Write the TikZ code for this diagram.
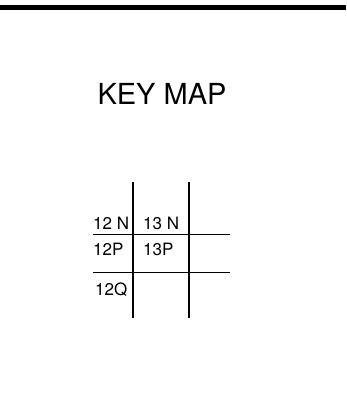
\documentclass[tikz,border=0pt]{standalone}
\usepackage{fontspec}
\setmainfont{TeX Gyre Heros}
\usetikzlibrary{positioning}

\begin{document}
\begin{tikzpicture}[x=1pt,y=-1pt]
\useasboundingbox (0,0) rectangle (346,393);
\fill [black] (0,5.5) rectangle (346,10.5);
\node [font=\fontsize{29}{30}\selectfont,inner sep=0pt,anchor=base] (title) at (162,104) {KEY MAP};
\begin{scope}[every node/.style={font=\fontsize{17}{18}\selectfont, inner sep=0pt, anchor=base west}]
\foreach \x in {133,189} {
  \draw [line width=1.4pt] (\x,182) -- (\x,318);
}
\foreach \y in {234,272} {
  \draw [line width=1pt] (93,\y) -- (230,\y);
}
\node (n12) at (93,229)  {12 N};
\node (n13) at (143,229) {13 N};
\node (p12) at (93,255)  {12P};
\node (p13) at (143,255) {13P};
\node (q12) at (95,295)  {12Q};
\end{scope}
\end{tikzpicture}
\end{document}
